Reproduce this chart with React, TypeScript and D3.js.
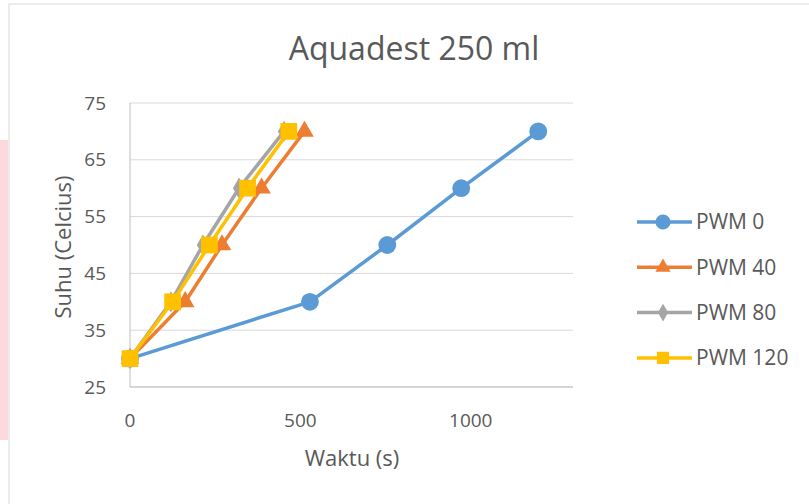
import React, { useEffect, useRef } from 'react';
import * as d3 from 'd3';

// data
const seriesNames = ['PWM 0', 'PWM 40', 'PWM 80', 'PWM 120'];
const suhu = [30, 40, 50, 60, 70];
const waktuPwm0 = [0, 528, 755, 972, 1198];
const waktuPwm40 = [0, 162, 270, 386, 512];
const waktuPwm80 = [0, 120, 214, 320, 452];
const waktuPwm120 = [0, 125, 233, 345, 466];
const colors = ['#5b9bd5', '#ed7d31', '#a5a5a5', '#ffc000'];
const symbols = ['circle', 'triangle', 'diamond', 'square'];
const xTicks = [0, 500, 1000];
const yTicks = [25, 35, 45, 55, 65, 75];

const App = () => {
    const ref = useRef<SVGSVGElement>(null);

    useEffect(() => {
        const svg = d3.select(ref.current);
        svg.selectAll('*').remove();

        const font = 'Open Sans, Liberation Sans, sans-serif';
        const textColor = '#595959';
        const margin = { top: 103, left: 130, right: 236, bottom: 117 };
        const width = 809 - margin.left - margin.right;
        const height = 504 - margin.top - margin.bottom;

        // background bits
        svg.append('rect').attr('x', 0).attr('y', 140).attr('width', 8).attr('height', 300).attr('fill', '#fdd9dd');
        svg.append('rect').attr('x', 9).attr('y', 4).attr('width', 820).attr('height', 520)
            .attr('fill', 'white').attr('stroke', '#d9d9d9');

        const x = d3.scaleLinear().domain([0, 1300]).range([0, width]);
        const y = d3.scaleLinear().domain([25, 75]).range([height, 0]);

        const g = svg.append('g').attr('transform', `translate(${margin.left},${margin.top})`);

        // grid
        g.selectAll('.grid').data(yTicks).enter().append('line')
            .attr('x1', 0).attr('x2', width)
            .attr('y1', d => y(d)).attr('y2', d => y(d))
            .attr('stroke', '#d9d9d9').attr('stroke-width', 1);

        g.append('line').attr('x1', 0).attr('x2', 0).attr('y1', 0).attr('y2', height)
            .attr('stroke', '#bfbfbf');
        g.append('line').attr('x1', 0).attr('x2', width).attr('y1', height).attr('y2', height)
            .attr('stroke', '#bfbfbf');

        // tick labels
        g.selectAll('.ylab').data(yTicks).enter().append('text')
            .attr('x', -24).attr('y', d => y(d)).attr('dy', '0.35em')
            .attr('text-anchor', 'end').attr('font-family', font).attr('font-size', 19)
            .attr('fill', textColor).text(d => d);
        g.selectAll('.xlab').data(xTicks).enter().append('text')
            .attr('x', d => x(d)).attr('y', height + 40)
            .attr('text-anchor', 'middle').attr('font-family', font).attr('font-size', 19)
            .attr('fill', textColor).text(d => d);

        // axis titles
        svg.append('text').attr('x', 352).attr('y', 466).attr('text-anchor', 'middle')
            .attr('font-family', font).attr('font-size', 22).attr('fill', textColor).text('Waktu (s)');
        svg.append('text').attr('transform', 'translate(71,247) rotate(-90)').attr('text-anchor', 'middle')
            .attr('font-family', font).attr('font-size', 22).attr('fill', textColor).text('Suhu (Celcius)');
        svg.append('text').attr('x', 414).attr('y', 60).attr('text-anchor', 'middle')
            .attr('font-family', font).attr('font-size', 32).attr('fill', textColor).text('Aquadest 250 ml');

        const symbolType: any = {
            circle: d3.symbolCircle, triangle: d3.symbolTriangle,
            diamond: d3.symbolDiamond, square: d3.symbolSquare
        };
        const symbolSize: any = { circle: 250, triangle: 150, diamond: 130, square: 280 };
        const legendSize: any = { circle: 180, triangle: 100, diamond: 90, square: 150 };

        const allX = [waktuPwm0, waktuPwm40, waktuPwm80, waktuPwm120];
        const line = d3.line<[number, number]>().x(d => x(d[0])).y(d => y(d[1]));

        allX.forEach((xs, i) => {
            const pts: [number, number][] = xs.map((v, j) => [v, suhu[j]]);
            g.append('path').datum(pts).attr('d', line)
                .attr('fill', 'none').attr('stroke', colors[i]).attr('stroke-width', 3.5)
                .attr('stroke-linejoin', 'round');
            g.selectAll('.m' + i).data(pts).enter().append('path')
                .attr('transform', d => `translate(${x(d[0])},${y(d[1])})`)
                .attr('d', d3.symbol().type(symbolType[symbols[i]]).size(symbolSize[symbols[i]])())
                .attr('fill', colors[i]);
        });

        // legend
        const legend = svg.append('g').attr('transform', 'translate(637,222)');
        seriesNames.forEach((name, i) => {
            const row = legend.append('g').attr('transform', `translate(0,${i * 45.3})`);
            row.append('line').attr('x1', 0).attr('x2', 55).attr('y1', 0).attr('y2', 0)
                .attr('stroke', colors[i]).attr('stroke-width', 3.5);
            row.append('path').attr('transform', 'translate(26,0)')
                .attr('d', d3.symbol().type(symbolType[symbols[i]]).size(legendSize[symbols[i]])())
                .attr('fill', colors[i]);
            row.append('text').attr('x', 59).attr('y', 0).attr('dy', '0.35em')
                .attr('font-family', font).attr('font-size', 21).attr('fill', textColor).text(name);
        });
    }, []);

    return (
        <svg ref={ref} width={809} height={504}
             style={{ position: 'absolute', left: 0, top: 0, background: 'white' }} />
    );
};

export default App;
